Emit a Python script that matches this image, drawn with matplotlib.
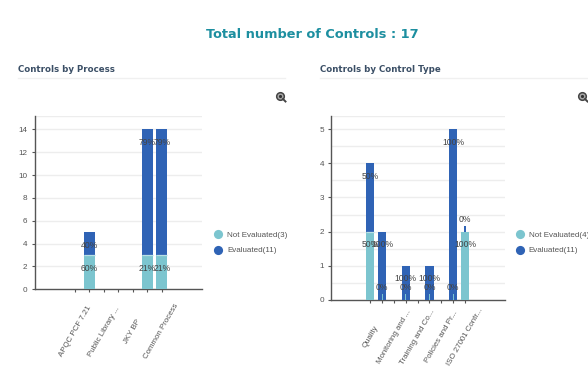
import matplotlib
matplotlib.use("Agg")
import matplotlib.pyplot as plt
from matplotlib.lines import Line2D
from matplotlib.patches import Circle

W, H = 588, 367
plt.rcParams['font.family'] = ['Liberation Sans', 'DejaVu Sans']

# ---- data ----
proc_positions = [1, 5, 6]
proc_not_eval = [3, 3, 3]
proc_eval = [2, 11, 11]
proc_not_pct = ['60%', '21%', '21%']
proc_eval_pct = ['40%', '79%', '79%']
proc_label_pos = [0, 2, 4, 6]
proc_labels = ['APQC PCF 7.21', 'Public Library ...', 'JKY BP', 'Common Process']
proc_ticks = [0, 1, 2, 3, 4, 5, 6]
proc_yticks = [0, 2, 4, 6, 8, 10, 12, 14]

type_positions = [0, 1, 3, 5, 7, 8]
type_not_eval = [2, 0, 0, 0, 0, 2]
type_eval = [2, 2, 1, 1, 5, 0]
type_not_pct = ['50%', '0%', '0%', '0%', '0%', '100%']
type_eval_pct = ['50%', '100%', '100%', '100%', '100%', '0%']
type_label_pos = [0, 2, 4, 6, 8]
type_labels = ['Quality', 'Monitoring and ...', 'Training and Co...', 'Policies and Pr...', 'ISO 27001 Contr...']
type_ticks = [0, 1, 2, 3, 4, 5, 6, 7, 8]
type_yticks = [0, 1, 2, 3, 4, 5]
type_ygrid = [0.5, 1, 1.5, 2, 2.5, 3, 3.5, 4, 4.5, 5, 5.4]

legend_left = ['Not Evaluated(3)', 'Evaluated(11)']
legend_right = ['Not Evaluated(4)', 'Evaluated(11)']

C_NOT = '#7cc5cf'
C_EVAL = '#2f63b5'
C_TEXT = '#555555'
C_LABEL = '#444444'

fig = plt.figure(figsize=(W / 100, H / 100), dpi=100, facecolor='white')


def make_axes(l, r, top, bottom):
    return fig.add_axes([l / W, 1 - bottom / H, (r - l) / W, (bottom - top) / H])


def stacked(ax, pos, a, b, pa, pb, width, min_px, ppu):
    min_h = min_px / ppu
    for x, va, vb, ta, tb in zip(pos, a, b, pa, pb):
        # a zero segment is drawn as a thin sliver, as in the source chart
        ax.bar(x, va if va else min_h, width=width if va else width * 0.14,
               color=C_NOT, edgecolor='none', zorder=3 if va else 4)
        ax.bar(x, vb if vb else min_h, bottom=va, width=width if vb else width * 0.14,
               color=C_EVAL, edgecolor='none', zorder=3)
        if va and vb:
            ax.plot([x - width / 2, x + width / 2], [va, va], color='#b9e0e6', lw=0.9, zorder=4,
                    solid_capstyle='butt')
        for v, bot, t in ((va, 0, ta), (vb, va, tb)):
            off = -13 if v else 12
            ax.annotate(t, xy=(x, bot + v), xytext=(0, off), textcoords='offset pixels',
                        ha='center', va='center', fontsize=6.2, color=C_LABEL, zorder=6)


def style(ax, ticks, yticks, ygrid, lab_pos, labels, legend, lx, lab_off):
    for s in ('top', 'right'):
        ax.spines[s].set_visible(False)
    for s in ('left', 'bottom'):
        ax.spines[s].set_color('#555555')
        ax.spines[s].set_linewidth(1.0)
    ax.set_axisbelow(True)
    for y in ygrid:
        ax.axhline(y, color='#ededed', lw=1, zorder=0)
    ax.set_yticks(yticks)
    ax.set_xticks(ticks)
    ax.set_xticklabels([])
    ax.tick_params(axis='both', length=2.2, width=0.8, color='#555555', labelcolor=C_TEXT,
                   labelsize=5.9, pad=3)
    for x, t in zip(lab_pos, labels):
        ax.annotate(t, xy=(x, 0), xycoords=('data', 'axes fraction'), xytext=(0, -lab_off),
                    textcoords='offset pixels', rotation=60, ha='center', va='center',
                    fontsize=5.7, color=C_TEXT, annotation_clip=False)
    handles = [Line2D([], [], ls='', marker='o', ms=6.6, mfc=c, mec='none') for c in (C_NOT, C_EVAL)]
    fig.legend(handles, legend, loc='center left', bbox_to_anchor=(lx / W, 1 - 243 / H),
               frameon=False, fontsize=5.75, labelcolor=C_TEXT, labelspacing=0.95,
               handletextpad=0.4, handlelength=1.5, borderpad=0, borderaxespad=0)


# Left chart
ax1 = make_axes(34.5, 202.5, 115.7, 289.3)
ax1.set_ylim(0, 15.2)
px = 14.44
ax1.set_xlim((34.5 - 75) / px, (202.5 - 75) / px)
stacked(ax1, proc_positions, proc_not_eval, proc_eval, proc_not_pct, proc_eval_pct, 0.74, 5.7, 11.43)
style(ax1, proc_ticks, proc_yticks, proc_yticks[1:] + [15.2], proc_label_pos, proc_labels,
      legend_left, 212, 42)

# Right chart
ax2 = make_axes(331.3, 504.7, 115.7, 299.7)
ax2.set_ylim(0, 5.4)
px = 11.83
x0 = 294 + 229 / 3
ax2.set_xlim((331.3 - x0) / px, (504.7 - x0) / px)
stacked(ax2, type_positions, type_not_eval, type_eval, type_not_pct, type_eval_pct, 0.68, 5.7, 34.07)
style(ax2, type_ticks, type_yticks, type_ygrid, type_label_pos, type_labels,
      legend_right, 513.7, 37)

# Headings
fig.text(312.5 / W, 1 - 35 / H, 'Total number of Controls : 17', ha='center', va='center',
         family='DejaVu Sans', fontweight='bold', fontsize=9.25, color='#1d8fa0')
fig.text(18 / W, 1 - 69 / H, 'Controls by Process', ha='left', va='center',
         family='DejaVu Sans', fontweight='bold', fontsize=6.25, color='#3b4f66')
fig.text(320 / W, 1 - 69 / H, 'Controls by Control Type', ha='left', va='center',
         family='DejaVu Sans', fontweight='bold', fontsize=6.2, color='#3b4f66')
for a, b in ((18, 285), (320, 588)):
    fig.add_artist(Line2D([a / W, b / W], [1 - 78 / H, 1 - 78 / H], color='#f0f0f0', lw=1))

# Zoom icons
for cx in (280.5, 582.5):
    cy = 96.5
    fig.add_artist(Line2D([(cx + 2.5) / W, (cx + 5) / W], [1 - (cy + 2.5) / H, 1 - (cy + 5) / H],
                          color='#444444', lw=1.4))
    fig.add_artist(Circle((cx, H - cy), 3.8, transform=None, fc='#aaaaaa', ec='#444444', lw=1.1))
    fig.add_artist(Circle((cx, H - cy), 1.6, transform=None, fc='#333333', ec='none'))

fig.savefig('out.png', dpi=100, facecolor='white')
